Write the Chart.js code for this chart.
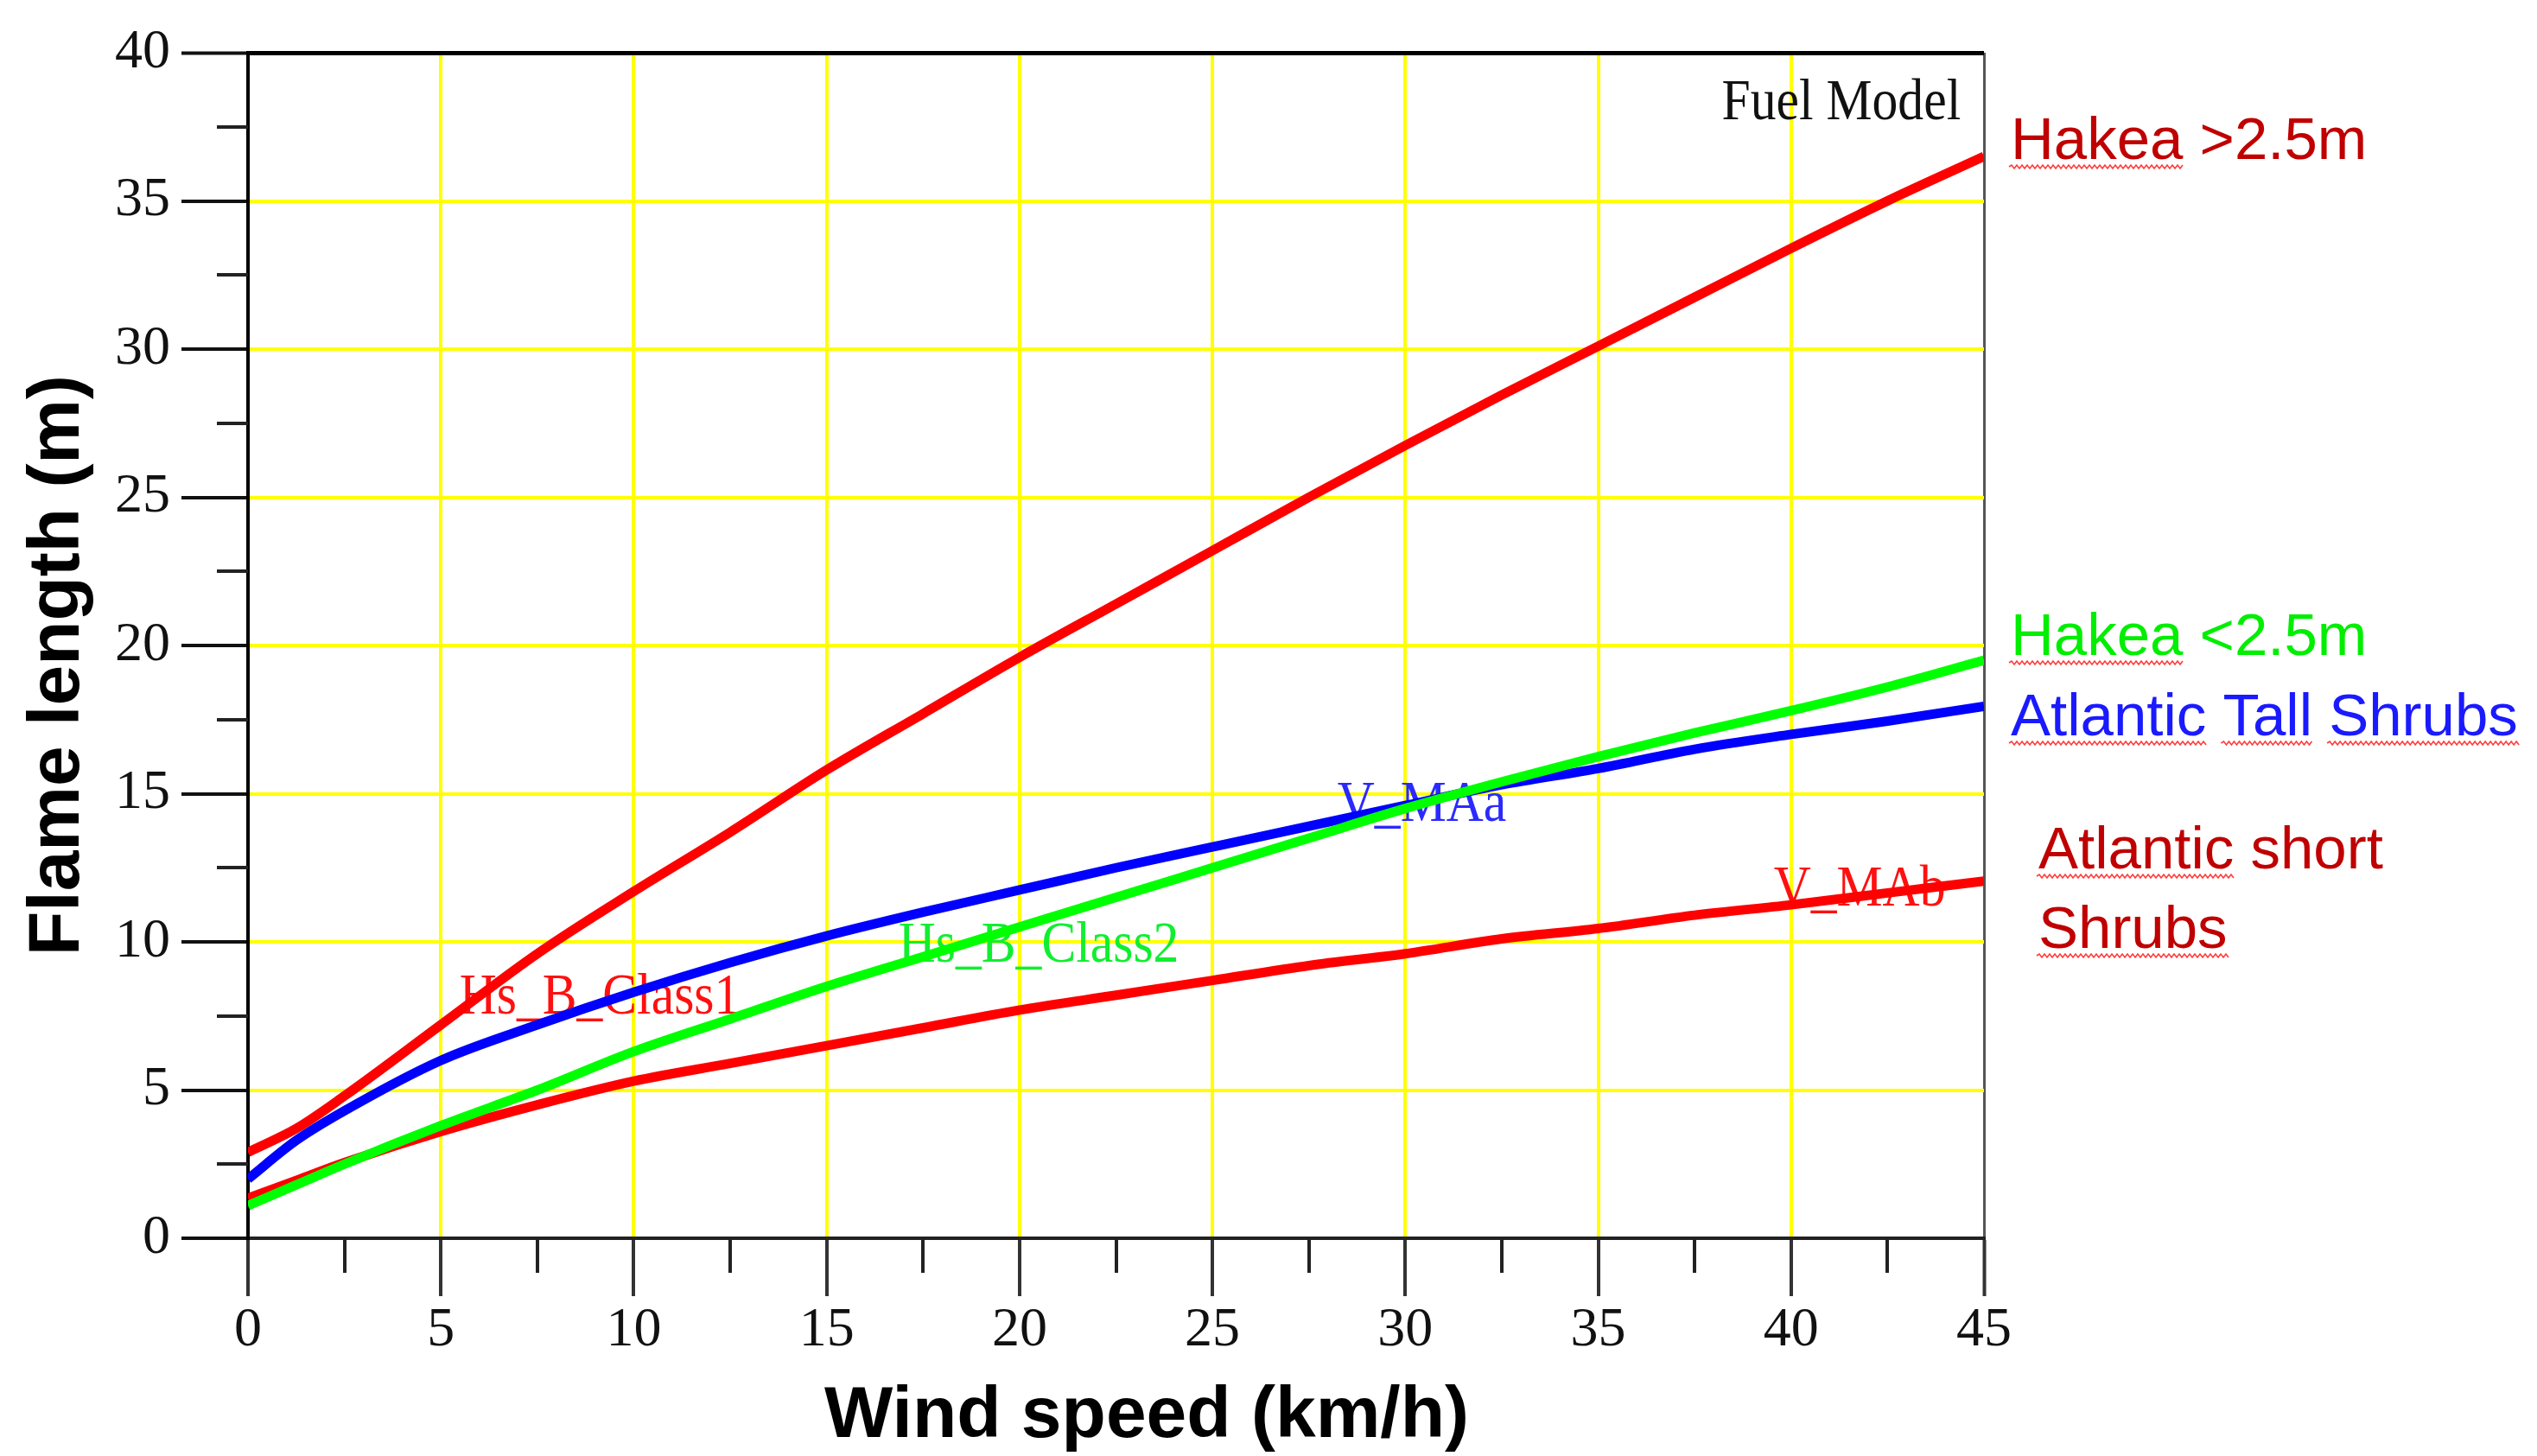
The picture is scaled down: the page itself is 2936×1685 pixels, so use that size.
<!DOCTYPE html>
<html lang="en">
<head>
  <meta charset="UTF-8" />
  <title>Flame length vs wind speed</title>
  <script src="https://cdn.jsdelivr.net/npm/chart.js@4.4.8/dist/chart.umd.min.js"></script>
  <style>
    html, body { margin: 0; padding: 0; background: #fff; }
    #wrap { width: 2936px; height: 1685px; position: relative; }
  </style>
</head>
<body>
  <div id="wrap"><canvas id="flameChart"></canvas></div>

  <script>
    // wind speed (km/h) and flame length (m)
    const windSpeed     = [0, 1.25, 2.5, 5, 7.5, 10, 12.5, 15, 17.5, 20, 22.5, 25, 27.5, 30, 32.5, 35, 37.5, 40, 42.5, 45];
    const hakeaAbove    = [2.9, 3.7, 4.8, 7.2, 9.6, 11.7, 13.7, 15.8, 17.7, 19.6, 21.4, 23.2, 25.0, 26.75, 28.45, 30.1, 31.75, 33.4, 35.0, 36.5];
    const hakeaBelow    = [1.1, 1.8, 2.5, 3.8, 5.0, 6.3, 7.4, 8.5, 9.5, 10.5, 11.5, 12.5, 13.5, 14.5, 15.4, 16.25, 17.05, 17.8, 18.6, 19.5];
    const atlanticTall  = [2.0, 3.3, 4.3, 6.0, 7.2, 8.3, 9.3, 10.2, 11.0, 11.75, 12.5, 13.2, 13.9, 14.6, 15.3, 15.85, 16.5, 17.0, 17.45, 17.95];
    const atlanticShort = [1.35, 1.95, 2.55, 3.6, 4.5, 5.3, 5.9, 6.5, 7.1, 7.7, 8.2, 8.7, 9.2, 9.6, 10.1, 10.45, 10.9, 11.25, 11.65, 12.05];

    const xTitle = 'Wind speed (km/h)';
    const yTitle = 'Flame length (m)';

    const pairs = ys => windSpeed.map((x, i) => ({ x: x, y: ys[i] }));

    // labels inside the plot, anchored in data units
    const plotLabels = [
      { text: 'Fuel Model',  x: 44.4,  y: 37.76, color: '#111',    align: 'right' },
      { text: 'Hs_B_Class1', x: 5.48,  y: 7.58,  color: '#ff1010', align: 'left' },
      { text: 'Hs_B_Class2', x: 16.86, y: 9.33,  color: '#10ee30', align: 'left' },
      { text: 'V_MAa',       x: 28.24, y: 14.08, color: '#2a2aff', align: 'left' },
      { text: 'V_MAb',       x: 39.55, y: 11.22, color: '#ff1010', align: 'left' }
    ];

    // captions right of the plot (offsets from chart area)
    const sideLabels = [
      { text: 'Hakea >2.5m',          dx: 31, dy: 123,  color: '#c00000' },
      { text: 'Hakea <2.5m',          dx: 31, dy: 697,  color: '#00ee00' },
      { text: 'Atlantic Tall Shrubs', dx: 31, dy: 790,  color: '#1a1aff' },
      { text: 'Atlantic short',       dx: 63, dy: 944,  color: '#c00000' },
      { text: 'Shrubs',               dx: 63, dy: 1036, color: '#c00000' }
    ];
    const squiggled = ['Hakea', 'Atlantic', 'Tall', 'Shrubs'];

    function squiggle(ctx, x0, x1, y) {
      ctx.beginPath();
      ctx.moveTo(x0, y);
      let up = true;
      for (let x = x0 + 3; x <= x1; x += 3) {
        ctx.lineTo(x, up ? y - 2 : y + 2);
        up = !up;
      }
      ctx.stroke();
    }

    const annotate = {
      id: 'annotate',
      beforeDatasetsDraw(chart) {
        const { ctx, scales: { x, y } } = chart;
        ctx.save();
        ctx.font = '67px "Liberation Serif", "Times New Roman", serif';
        ctx.textBaseline = 'alphabetic';
        plotLabels.forEach(l => {
          const px = x.getPixelForValue(l.x);
          const py = y.getPixelForValue(l.y);
          ctx.save();
          ctx.translate(px, py);
          ctx.scale(0.89, 1);
          ctx.fillStyle = l.color;
          ctx.textAlign = l.align;
          ctx.fillText(l.text, 0, 0);
          ctx.restore();
        });
        ctx.restore();
      },
      afterDraw(chart) {
        const { ctx, chartArea, scales: { x, y } } = chart;
        ctx.save();

        // minor ticks every 2.5
        ctx.strokeStyle = '#222';
        ctx.lineWidth = 4;
        ctx.beginPath();
        for (let v = 2.5; v < 45; v += 5) {
          const px = Math.round(x.getPixelForValue(v));
          ctx.moveTo(px, chartArea.bottom);
          ctx.lineTo(px, chartArea.bottom + 40);
        }
        for (let v = 2.5; v < 40; v += 5) {
          const py = Math.round(y.getPixelForValue(v));
          ctx.moveTo(chartArea.left - 36, py);
          ctx.lineTo(chartArea.left, py);
        }
        ctx.stroke();

        // axis titles
        ctx.fillStyle = '#000';
        ctx.font = 'bold 84px "Liberation Sans", Arial, sans-serif';
        ctx.textAlign = 'center';
        ctx.textBaseline = 'middle';
        ctx.fillText(xTitle, 1327, 1640);
        ctx.save();
        ctx.translate(68, 770);
        ctx.rotate(-Math.PI / 2);
        ctx.fillText(yTitle, 0, 0);
        ctx.restore();

        // side captions with spell-check squiggles
        ctx.font = '69px "Liberation Sans", Arial, sans-serif';
        ctx.textAlign = 'left';
        ctx.textBaseline = 'alphabetic';
        sideLabels.forEach(l => {
          const bx = chartArea.right + l.dx;
          const by = chartArea.top + l.dy;
          ctx.fillStyle = l.color;
          ctx.fillText(l.text, bx, by);
          ctx.strokeStyle = '#ff3a3a';
          ctx.lineWidth = 1.6;
          let cursor = bx;
          l.text.split(' ').forEach((w, i) => {
            if (i > 0) cursor += ctx.measureText(' ').width;
            const ww = ctx.measureText(w).width;
            if (squiggled.includes(w)) squiggle(ctx, cursor - 2, cursor + ww + 2, by + 9);
            cursor += ww;
          });
        });
        ctx.restore();
      }
    };

    new Chart(document.getElementById('flameChart'), {
      type: 'line',
      data: {
        datasets: [
          { label: 'Hakea >2.5m', data: pairs(hakeaAbove), borderColor: '#ff0000' },
          { label: 'Hakea <2.5m', data: pairs(hakeaBelow), borderColor: '#00ff00' },
          { label: 'Atlantic Tall Shrubs', data: pairs(atlanticTall), borderColor: '#0000ff' },
          { label: 'Atlantic short Shrubs', data: pairs(atlanticShort), borderColor: '#ff0000' }
        ].map(d => Object.assign(d, { borderWidth: 11, pointRadius: 0, fill: false, cubicInterpolationMode: 'monotone' }))
      },
      options: {
        responsive: true,
        maintainAspectRatio: false,
        animation: false,
        devicePixelRatio: 1,
        layout: { padding: { top: 61, right: 640, bottom: 0, left: 0 } },
        plugins: { legend: { display: false }, tooltip: { enabled: false } },
        scales: {
          x: {
            type: 'linear',
            min: 0,
            max: 45,
            afterFit: s => { s.height = 252; },
            ticks: {
              stepSize: 5,
              padding: 2,
              color: '#111',
              font: { family: '"Liberation Serif", "Times New Roman", serif', size: 64 }
            },
            grid: {
              color: c => c.tick.value === 0 ? 'rgba(0,0,0,0)' : (c.tick.value === 45 ? '#555' : '#ffff00'),
              lineWidth: c => c.tick.value === 45 ? 3 : 4,
              tickColor: '#333',
              tickWidth: 4,
              tickLength: 67
            },
            border: { color: '#222', width: 4 }
          },
          y: {
            min: 0,
            max: 40,
            afterFit: s => { s.width = 287; },
            ticks: {
              stepSize: 5,
              padding: 13,
              color: '#111',
              font: { family: '"Liberation Serif", "Times New Roman", serif', size: 64 }
            },
            grid: {
              color: c => c.tick.value === 0 ? 'rgba(0,0,0,0)' : (c.tick.value === 40 ? '#000' : '#ffff00'),
              lineWidth: c => c.tick.value === 40 ? 5 : 4,
              tickColor: '#111',
              tickWidth: 4,
              tickLength: 77
            },
            border: { color: '#000', width: 4 }
          }
        }
      },
      plugins: [annotate]
    });
  </script>
</body>
</html>
